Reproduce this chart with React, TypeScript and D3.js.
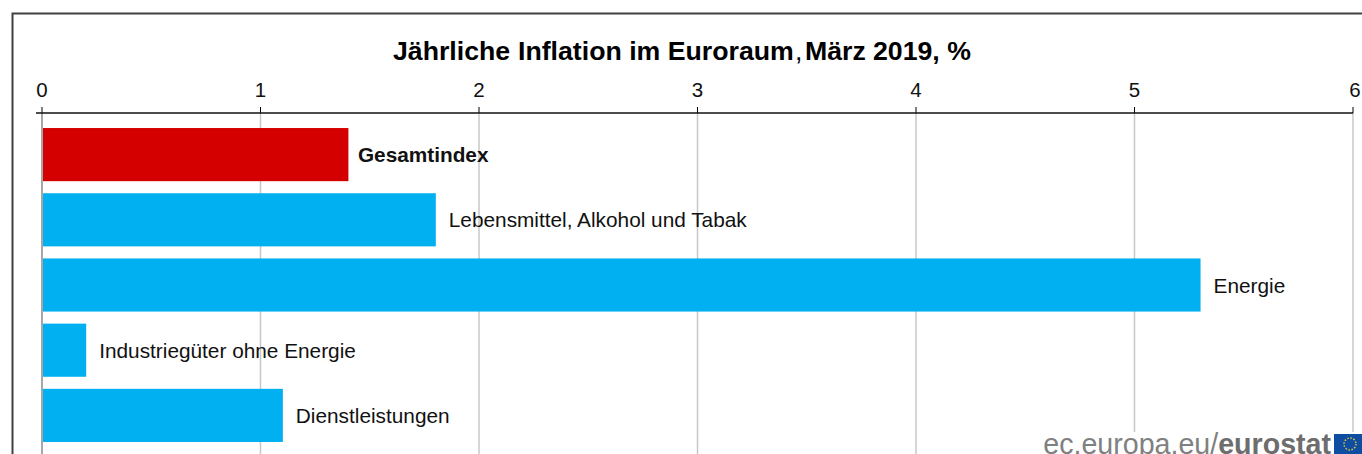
import React from "react";
import * as d3 from "d3";

const categories = ["Gesamtindex", "Lebensmittel, Alkohol und Tabak", "Energie", "Industriegüter ohne Energie", "Dienstleistungen"];
const values = [1.4, 1.8, 5.3, 0.2, 1.1];
const barColors = ["#d40000", "#00b0f0", "#00b0f0", "#00b0f0", "#00b0f0"];
const tickValues = [0, 1, 2, 3, 4, 5, 6];
const titleParts = [
  { text: "Jährliche", x: 393 },
  { text: "Inflation im Euroraum", x: 518 },
  { text: ",", x: 795 },
  { text: "März", x: 805 },
  { text: "2019, %", x: 873 },
];
const font = "'Liberation Sans', Arial, sans-serif";

export default function App() {
  const x = d3.scaleLinear().domain([0, 6]).range([42, 1353]);
  const y = d3.scaleBand().domain(categories).range([122, 448]).paddingInner(0.185).paddingOuter(0.0925);
  return (
    <svg width={1362} height={454} viewBox="0 0 1362 454" style={{ position: "absolute", left: 0, top: 0, fontFamily: font }}>
      <rect width={1362} height={454} fill="#fff" />
      <path d="M12.5,454V13.5H1362" fill="none" stroke="#404040" strokeWidth={2} />
      {titleParts.map((p, i) => (
        <text key={i} x={p.x} y={60} fontSize={26.7} fontWeight={p.text === "," ? 400 : 700} fill="#000">{p.text}</text>
      ))}
      {tickValues.map((t) => (
        <g key={t}>
          <line x1={x(t)} x2={x(t)} y1={113} y2={454} stroke={t === 0 ? "#a6a6a6" : "#c8c8c8"} strokeWidth={t === 0 ? 2 : 1.5} />
          <line x1={x(t)} x2={x(t)} y1={107} y2={113} stroke="#000" strokeWidth={1} />
          <text x={x(t) + (t === 6 ? 2 : 0)} y={97} fontSize={20.5} textAnchor="middle" fill="#111">{t}</text>
        </g>
      ))}
      <line x1={36} x2={1353} y1={113} y2={113} stroke="#111" strokeWidth={1.5} />
      {categories.map((c, i) => (
        <g key={c}>
          <rect x={x(0) + 1} y={y(c)} width={x(values[i]) - x(0) - 0.5} height={y.bandwidth()} fill={barColors[i]} />
          <text x={x(values[i]) + (i === 0 ? 10 : 13.5)} y={(y(c) as number) + y.bandwidth() / 2 + 7.5} fontSize={20.8} fontWeight={i === 0 ? 700 : 400} fill="#111">{c}</text>
        </g>
      ))}
      <rect x={1030} y={432} width={332} height={22} fill="#fff" />
      <text x={1331} y={454} fontSize={28.6} textAnchor="end" fill="#808080">
        ec.europa.eu/<tspan fontWeight={700} fill="#6d6d6d">eurostat</tspan>
      </text>
      <rect x={1334} y={434} width={28} height={20} fill="#0f4da2" />
      <circle cx={1350} cy={444} r={6} fill="none" stroke="#d8c93a" strokeWidth={1.5} strokeDasharray="1.5 1.6" />
    </svg>
  );
}
